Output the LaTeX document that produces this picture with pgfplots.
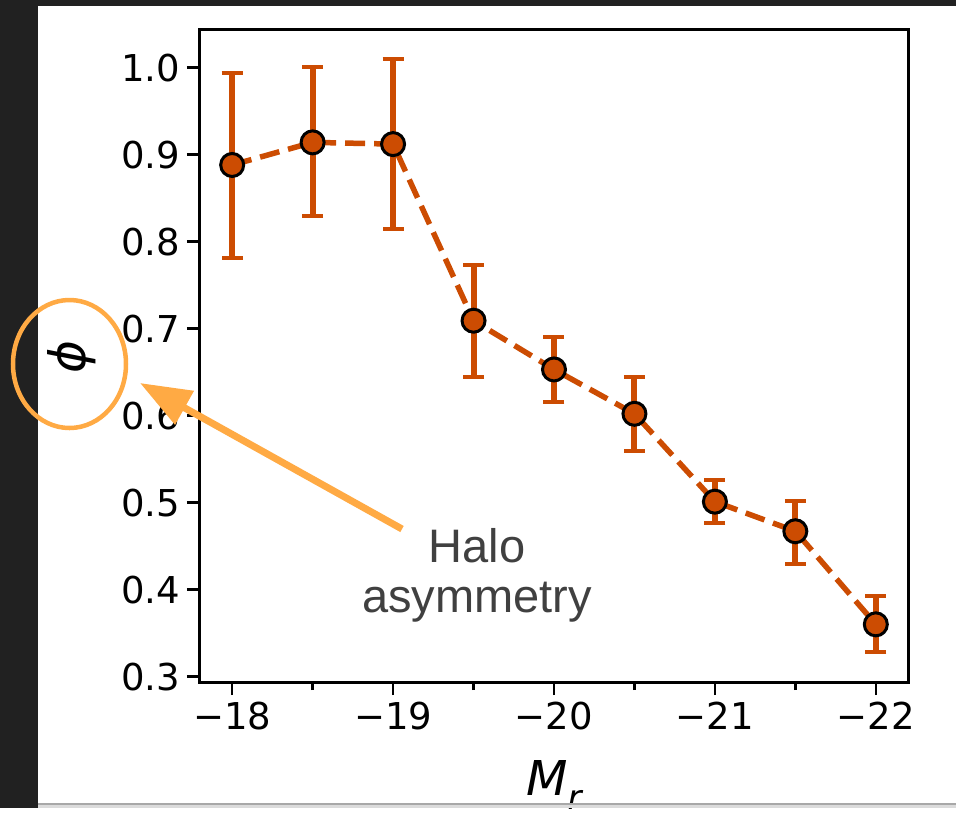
\documentclass[border=0pt]{standalone}
\usepackage{pgfplots}
\pgfplotsset{compat=1.18}
\usepackage{fontspec}
\setmainfont{DejaVu Sans}
\newfontfamily\annfont{Liberation Sans}
\usetikzlibrary{arrows.meta}

\definecolor{ptcol}{HTML}{CC4C02}
\definecolor{anncol}{HTML}{FFAA44}
\definecolor{framecol}{HTML}{212121}
\definecolor{anntext}{HTML}{404040}

\begin{document}
\begin{tikzpicture}
% page background and dark frame
\begin{scope}[x=0.5pt,y=-0.5pt]
  \useasboundingbox (0,0) rectangle (956,808);
  \fill[white] (0,0) rectangle (956,808);
  \fill[framecol] (0,0) rectangle (38,808);
  \fill[framecol] (0,0) rectangle (956,6);
\end{scope}

\begin{axis}[
  at={(100pt,-341pt)}, anchor=south west,
  scale only axis, width=354pt, height=326.5pt,
  x dir=reverse,
  xmin=-22.2, xmax=-17.8,
  ymin=0.2937, ymax=1.0443,
  xtick={-22,-21,-20,-19,-18},
  xticklabels={−22,−21,−20,−19,−18},
  minor xtick={-21.5,-20.5,-19.5,-18.5},
  ytick={0.3,0.4,0.5,0.6,0.7,0.8,0.9,1.0},
  yticklabels={0.3,0.4,0.5,0.6,0.7,0.8,0.9,1.0},
  xtick pos=left, ytick pos=left,
  tick align=outside,
  major tick length=6.5pt, minor tick length=4pt,
  every tick/.style={black, line width=1.25pt},
  axis line style={line width=1.5pt},
  tick label style={font=\fontsize{18.5}{22}\selectfont},
  xlabel={\fontsize{24}{28}\selectfont\itshape M\raisebox{-0.3em}{\fontsize{17}{20}\selectfont r}},
  xlabel style={at={(axis description cs:0.5,0)}, anchor=base, yshift=-56.5pt},
]
% error bars
\addplot[draw=none, mark=none, forget plot,
  error bars/.cd, y dir=both, y explicit,
  error bar style={draw=ptcol, line width=3pt},
  error mark options={draw=ptcol, line width=2pt, mark size=5.25pt, rotate=90}]
coordinates {
  (-18.0,0.888) += (0,0.106) -= (0,0.107)
  (-18.5,0.914) += (0,0.087) -= (0,0.085)
  (-19.0,0.912) += (0,0.098) -= (0,0.098)
  (-19.5,0.709) += (0,0.064) -= (0,0.065)
  (-20.0,0.653) += (0,0.037) -= (0,0.038)
  (-20.5,0.602) += (0,0.042) -= (0,0.043)
  (-21.0,0.501) += (0,0.025) -= (0,0.025)
  (-21.5,0.467) += (0,0.035) -= (0,0.038)
  (-22.0,0.360) += (0,0.032) -= (0,0.032)
};
% mean values
\addplot[ptcol, line width=2.75pt, dash pattern=on 10pt off 4.5pt,
  mark=*, mark size=5.75pt,
  mark options={solid, fill=ptcol, draw=black, line width=1.5pt}]
coordinates {
  (-18.0,0.888) (-18.5,0.914) (-19.0,0.912) (-19.5,0.709) (-20.0,0.653)
  (-20.5,0.602) (-21.0,0.501) (-21.5,0.467) (-22.0,0.360)
};
\end{axis}

% y label and annotation
\begin{scope}[x=0.5pt,y=-0.5pt]
  \node[rotate=90, inner sep=0pt, font=\fontsize{25}{28}\selectfont\itshape]
    at (72,357) {ϕ};
  \draw[anncol, line width=2.25pt] (69.5,364) ellipse [x radius=56.5, y radius=64];
  \draw[anncol, line width=3.5pt, -{Triangle[length=25.5pt,width=18.5pt]}]
    (402,529) -- (140,383);
  \node[anntext, font=\annfont\fontsize{23.5}{28}\selectfont, anchor=base, inner sep=0pt]
    at (477,562) {Halo};
  \node[anntext, font=\annfont\fontsize{23.5}{28}\selectfont, anchor=base, inner sep=0pt]
    at (477,612) {asymmetry};
  \fill[black!34] (38,803) rectangle (956,805);
  \fill[black!14] (38,805) rectangle (956,808);
\end{scope}
\end{tikzpicture}
\end{document}
